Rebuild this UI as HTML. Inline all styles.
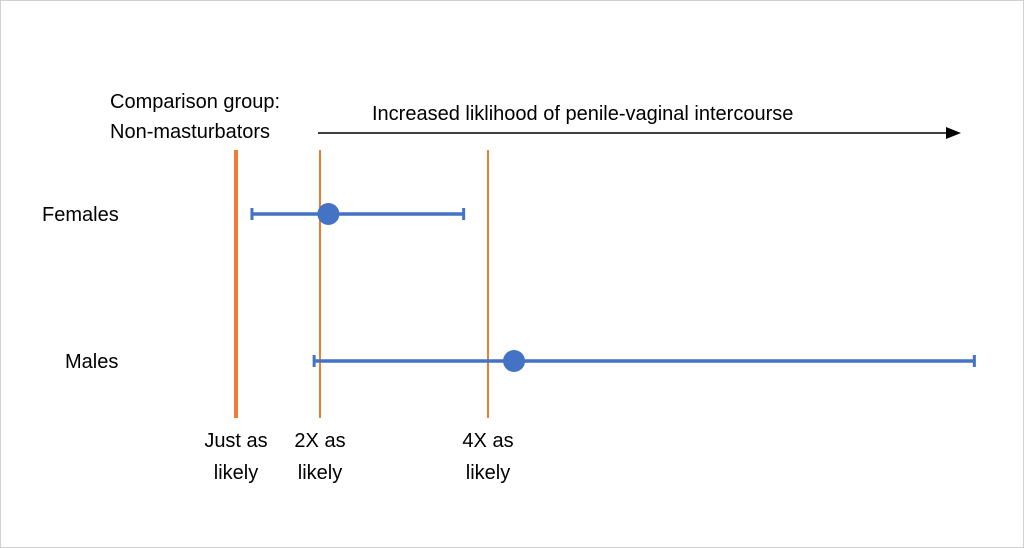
<!DOCTYPE html>
<html><head><meta charset="utf-8"><style>
body{margin:0;background:#fff}
svg{display:block;font-family:"Liberation Sans",sans-serif}
</style></head><body>
<svg width="1024" height="548" viewBox="0 0 1024 548">
<rect x="0.5" y="0.5" width="1023" height="547" fill="#fff" stroke="#d0d0d0"/>
<g id="g"></g>
</svg>
<script>
const refValues=[1,2,4];
const refThick=[4,2,2];
const refLabels1=["Just as","2X as","4X as"];
const refLabels2=["likely","likely","likely"];
const groups=["Females","Males"];
const lows=[1.19,1.93];
const points=[2.1,4.31];
const highs=[3.71,9.79];
const X=v=>236+(v-1)*84;
const rowY=[214,361];
const labelX=[42,65];
const NS="http://www.w3.org/2000/svg";
const g=document.getElementById('g');
function mk(t,a,txt){const e=document.createElementNS(NS,t);for(const k in a)e.setAttribute(k,a[k]);if(txt)e.textContent=txt;g.appendChild(e);return e;}
let e;
e=mk('text',{x:110,y:108,'font-size':20,fill:'#000'},'Comparison group:');


e=mk('text',{x:110,y:138,'font-size':20,fill:'#000'},'Non-masturbators');


e=mk('text',{x:372,y:120,'font-size':20,fill:'#000'},'Increased liklihood of penile-vaginal intercourse');


e=mk('line',{x1:318,y1:133,x2:948,y2:133,stroke:'#000','stroke-width':1.5});


e=mk('polygon',{points:'946,127 961,133 946,139',fill:'#000'});


refValues.forEach((v,i)=>{
  const x=X(v);
  e=mk('line',{x1:x,y1:150,x2:x,y2:418,stroke:'#ed7d31','stroke-width':refThick[i]});
  
  
  e=mk('text',{x:x,y:447,'font-size':20,'text-anchor':'middle',fill:'#000'},refLabels1[i]);
  
  
  e=mk('text',{x:x,y:479,'font-size':20,'text-anchor':'middle',fill:'#000'},refLabels2[i]);
  
  
});
groups.forEach((n,i)=>{
  const y=rowY[i];
  e=mk('text',{x:labelX[i],y:y+7,'font-size':20,fill:'#000'},n);
  
  
  e=mk('line',{x1:X(lows[i]),y1:y,x2:X(highs[i]),y2:y,stroke:'#4472c4','stroke-width':3.5});
  
  
  [lows[i],highs[i]].forEach((v,j)=>{
    e=mk('line',{x1:X(v),y1:y-6,x2:X(v),y2:y+6,stroke:'#4472c4','stroke-width':3});
    
    
  });
  e=mk('circle',{cx:X(points[i]),cy:y,r:11,fill:'#4472c4'});
  
  
});
</script>
</body></html>
